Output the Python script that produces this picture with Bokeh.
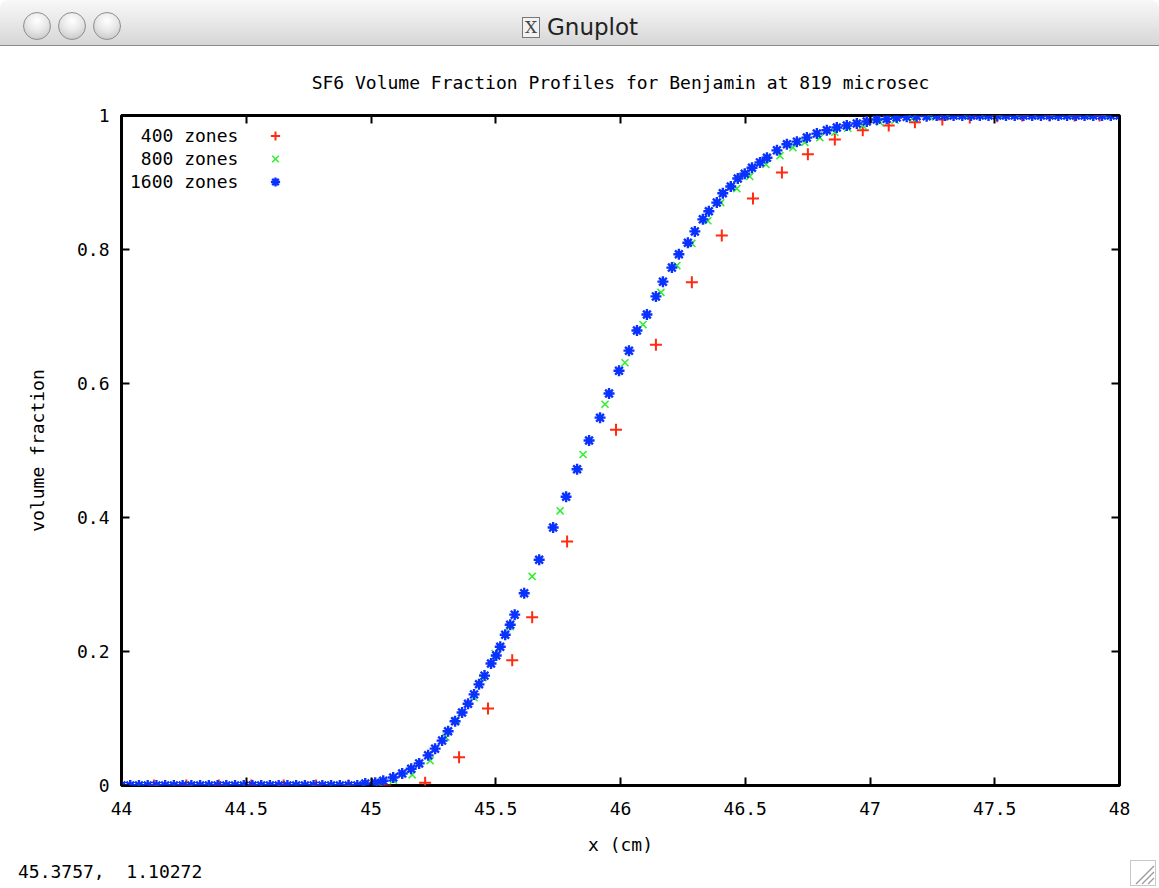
from bokeh.plotting import figure
from bokeh.models import (FixedTicker, CustomJSTickFormatter, LinearAxis, Legend,
                          LegendItem, Div, Range1d)
from bokeh.layouts import column
from bokeh.embed import file_html
from bokeh.resources import INLINE

# ---------------- data ----------------
x400 = [44.00, 44.13, 44.26, 44.39, 44.52, 44.65, 44.78, 44.91, 45.057, 45.217,
        45.353, 45.469, 45.566, 45.646, 45.786, 45.982, 46.142, 46.286, 46.406,
        46.531, 46.647, 46.751, 46.859, 46.971, 47.075, 47.18, 47.29, 47.40,
        47.51, 47.61, 47.72, 47.82, 47.92]
y400 = [0.0, 0.0, 0.0, 0.0, 0.0, 0.0, 0.0, 0.0, 0.0, 0.004,
        0.042, 0.115, 0.187, 0.251, 0.364, 0.531, 0.658, 0.751, 0.821,
        0.876, 0.915, 0.942, 0.964, 0.978, 0.985, 0.990, 0.994, 0.997,
        0.999, 1.0, 1.0, 1.0, 1.0]

x800 = [44.00, 44.07, 44.14, 44.21, 44.28, 44.35, 44.42, 44.49, 44.56, 44.63,
        44.70, 44.77, 44.84, 44.91, 44.97, 45.03, 45.09, 45.165, 45.237, 45.30,
        45.341, 45.413, 45.449, 45.497, 45.558, 45.646, 45.758, 45.850, 45.938,
        46.018, 46.090, 46.162, 46.226, 46.286, 46.350, 46.402, 46.466, 46.518,
        46.583, 46.639, 46.691, 46.739, 46.799, 46.859, 46.911, 46.971, 47.039,
        47.10, 47.17, 47.24, 47.31, 47.38, 47.45, 47.52, 47.59, 47.66, 47.73,
        47.80, 47.87, 47.94, 48.00]
y800 = [0.0, 0.0, 0.0, 0.0, 0.0, 0.0, 0.0, 0.0, 0.0, 0.0,
        0.0, 0.0, 0.0, 0.0, 0.001, 0.003, 0.008, 0.016, 0.037, 0.072,
        0.097, 0.131, 0.161, 0.197, 0.237, 0.312, 0.410, 0.494, 0.569,
        0.631, 0.688, 0.736, 0.776, 0.809, 0.843, 0.870, 0.891, 0.909,
        0.927, 0.940, 0.952, 0.960, 0.967, 0.975, 0.981, 0.985, 0.990,
        0.993, 0.996, 0.998, 0.999, 1.0, 1.0, 1.0, 1.0, 1.0, 1.0,
        1.0, 1.0, 1.0, 1.0]

x1600 = [44.000, 44.035, 44.070, 44.105, 44.140, 44.175, 44.210, 44.245, 44.280,
         44.315, 44.350, 44.385, 44.420, 44.455, 44.490, 44.525, 44.560, 44.595,
         44.630, 44.665, 44.700, 44.735, 44.770, 44.805, 44.840, 44.875, 44.910,
         44.945, 44.977, 45.017, 45.049, 45.089, 45.125, 45.161, 45.193, 45.229,
         45.257, 45.285, 45.309, 45.337, 45.365, 45.389, 45.413, 45.433, 45.455,
         45.481, 45.502, 45.518, 45.538, 45.558, 45.576, 45.614, 45.674, 45.730,
         45.782, 45.826, 45.874, 45.918, 45.954, 45.994, 46.034, 46.066, 46.106,
         46.142, 46.170, 46.206, 46.234, 46.270, 46.298, 46.330, 46.354, 46.386,
         46.410, 46.442, 46.470, 46.498, 46.527, 46.559, 46.587, 46.627, 46.667,
         46.707, 46.747, 46.787, 46.827, 46.867, 46.907, 46.947, 46.987, 47.027,
         47.067, 47.107, 47.147, 47.187, 47.227, 47.267, 47.300, 47.335, 47.370,
         47.405, 47.440, 47.475, 47.510, 47.545, 47.580, 47.615, 47.650, 47.685,
         47.720, 47.755, 47.790, 47.825, 47.860, 47.895, 47.930, 47.965, 48.000]
y1600 = [0.0, 0.0, 0.0, 0.0, 0.0, 0.0, 0.0, 0.0, 0.0,
         0.0, 0.0, 0.0, 0.0, 0.0, 0.0, 0.0, 0.0, 0.0,
         0.0, 0.0, 0.0, 0.0, 0.0, 0.0, 0.0, 0.0, 0.0,
         0.0, 0.003, 0.004, 0.007, 0.012, 0.018, 0.025, 0.033, 0.045,
         0.055, 0.067, 0.081, 0.096, 0.109, 0.122, 0.136, 0.151, 0.164,
         0.182, 0.194, 0.207, 0.225, 0.240, 0.255, 0.287, 0.337, 0.385,
         0.431, 0.472, 0.515, 0.549, 0.585, 0.619, 0.649, 0.679, 0.703,
         0.730, 0.752, 0.773, 0.793, 0.810, 0.827, 0.845, 0.857, 0.870,
         0.884, 0.894, 0.906, 0.913, 0.922, 0.930, 0.937, 0.948, 0.957,
         0.961, 0.967, 0.973, 0.978, 0.982, 0.985, 0.988, 0.991, 0.994,
         0.995, 0.997, 0.998, 0.999, 0.999, 1.0, 1.0, 1.0, 1.0,
         1.0, 1.0, 1.0, 1.0, 1.0, 1.0, 1.0, 1.0, 1.0,
         1.0, 1.0, 1.0, 1.0, 1.0, 1.0, 1.0, 1.0, 1.0]

series_labels = ["400 zones", "800 zones", "1600 zones"]
x_ticks = [44, 44.5, 45, 45.5, 46, 46.5, 47, 47.5, 48]
y_ticks = [0, 0.2, 0.4, 0.6, 0.8, 1]

title_text = "SF6 Volume Fraction Profiles for Benjamin at 819 microsec"
x_label = "x (cm)"
y_label = "volume fraction"
status_text = "45.3757,  1.10272"
window_title = "Gnuplot"

RED = "#ff2a10"
GREEN = "#33ee33"
BLUE = "#0a32ff"
FONT = "DejaVu Sans Mono"
FS = "18px"

# ---------------- window title bar ----------------
circles = ""
for cx in (23, 58, 93):
    circles += (f'<div style="position:absolute;left:{cx}px;top:12px;width:28px;height:28px;'
                'border-radius:50%;box-sizing:border-box;border:1px solid #8e8e8e;'
                'background:radial-gradient(circle at 50% 30%, #ffffff 0%, #e8e8e8 45%, #bdbdbd 100%);"></div>')
title_bar_html = (
    '<div style="position:relative;width:1159px;height:46px;box-sizing:border-box;'
    'background:linear-gradient(#f8f8f8,#e8e8e8 50%,#d6d6d6);border-bottom:1px solid #8a8a8a;'
    'border-top-left-radius:8px;border-top-right-radius:8px;">'
    + circles +
    '<div style="position:absolute;left:522px;top:17px;width:18px;height:21px;box-sizing:border-box;'
    'border:1px solid #777;background:#f2f2f2;font-family:\'DejaVu Serif\';font-size:17px;'
    'line-height:19px;text-align:center;color:#444;">X</div>'
    '<div style="position:absolute;left:547px;top:13px;font-family:\'DejaVu Sans\';font-size:23px;'
    f'color:#222;line-height:28px;">{window_title}</div>'
    '</div>')
title_bar = Div(text=title_bar_html, width=1159, height=46, margin=0)

# ---------------- plot ----------------
p = figure(width=1159, height=812, output_backend="svg", toolbar_location=None,
           x_range=Range1d(44, 48), y_range=Range1d(0, 1),
           min_border_left=121, min_border_right=40, min_border_top=69, min_border_bottom=73,
           background_fill_color="white", border_fill_color="white")
p.grid.visible = False
p.outline_line_color = "black"
p.outline_line_width = 3
p.outline_line_alpha = 1.0

p.title.text = title_text
p.title.align = "center"
p.title.text_font = FONT
p.title.text_font_size = FS
p.title.text_font_style = "normal"
p.title.text_color = "black"
p.title.standoff = 46

p.add_layout(LinearAxis(), "above")
p.add_layout(LinearAxis(), "right")

label_fmt = CustomJSTickFormatter(code="return String(Math.round(tick*10)/10);")
blank_fmt = CustomJSTickFormatter(code="return '';")

for ax in p.xaxis:
    ax.ticker = FixedTicker(ticks=x_ticks)
for ax in p.yaxis:
    ax.ticker = FixedTicker(ticks=y_ticks)

for ax in p.axis:
    ax.axis_line_color = None
    ax.major_tick_in = 8
    ax.major_tick_out = 0
    ax.minor_tick_in = 0
    ax.minor_tick_out = 0
    ax.major_tick_line_color = "black"
    ax.major_tick_line_width = 2
    ax.major_label_text_font = FONT
    ax.major_label_text_font_size = FS
    ax.major_label_text_color = "black"
    ax.axis_label_text_font = FONT
    ax.axis_label_text_font_size = FS
    ax.axis_label_text_font_style = "normal"
    ax.axis_label_text_color = "black"

bottom = p.below[0]
left = p.left[0]
top = p.above[0]
right = p.right[0]
bottom.formatter = label_fmt
left.formatter = label_fmt
top.formatter = blank_fmt
right.formatter = blank_fmt
top.major_label_standoff = 0
right.major_label_standoff = 0
bottom.major_label_standoff = 16
left.major_label_standoff = 12
bottom.axis_label = x_label
left.axis_label = y_label
bottom.axis_label_standoff = 16
left.axis_label_standoff = 26

r400 = p.scatter(x400, y400, marker="cross", size=12, line_color=RED, line_width=2)
r800 = p.scatter(x800, y800, marker="x", size=10, line_color=GREEN, line_width=1.6)
r1600 = p.scatter(x1600, y1600, marker="asterisk", size=11, line_color=BLUE, line_width=2.4)
renderers = [r400, r800, r1600]

# gnuplot style key: right-aligned text (monospace, padded) followed by the sample marker
width_chars = max(len(s) for s in series_labels)
padded = ["\u00a0" * (width_chars - len(s)) + s for s in series_labels]
text_key = Legend(items=[LegendItem(label=t, renderers=[r]) for t, r in zip(padded, renderers)],
                  location="top_left", margin=9, padding=0, spacing=0,
                  glyph_height=23, glyph_width=0, label_height=23, label_standoff=0,
                  label_text_font=FONT, label_text_font_size=FS, label_text_color="black",
                  border_line_color=None, background_fill_alpha=0)
mark_key = Legend(items=[LegendItem(label=" ", renderers=[r]) for r in renderers],
                  location="top_left", margin=9, padding=0, spacing=0,
                  glyph_height=23, glyph_width=290, label_height=23, label_standoff=0,
                  label_text_font=FONT, label_text_font_size=FS, label_text_color="black",
                  border_line_color=None, background_fill_alpha=0)
p.add_layout(text_key)
p.add_layout(mark_key)

# ---------------- status line ----------------
status_html = (
    '<div style="position:relative;width:1159px;height:30px;">'
    f'<div style="position:absolute;left:18px;top:3px;font-family:\'{FONT}\';font-size:18px;'
    f'white-space:pre;color:#000;line-height:22px;">{status_text}</div>'
    '<svg style="position:absolute;left:1130px;top:2px" width="26" height="26">'
    '<rect x="0.5" y="0.5" width="25" height="25" fill="none" stroke="#c8c8c8"/>'
    '<line x1="6" y1="24" x2="24" y2="6" stroke="#999" stroke-width="1.2"/>'
    '<line x1="12" y1="24" x2="24" y2="12" stroke="#999" stroke-width="1.2"/>'
    '<line x1="18" y1="24" x2="24" y2="18" stroke="#999" stroke-width="1.2"/>'
    '</svg></div>')
status = Div(text=status_html, width=1159, height=30, margin=0)

layout = column(title_bar, p, status, spacing=0)
open("out.html", "w").write(file_html(layout, INLINE))
